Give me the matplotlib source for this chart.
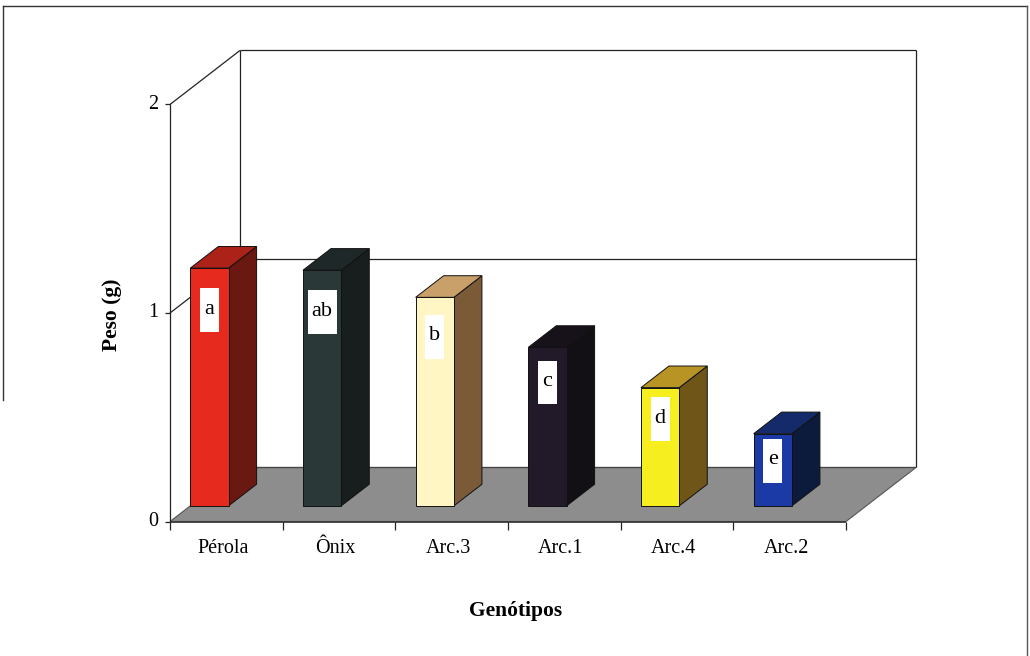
import matplotlib
matplotlib.use("Agg")
import matplotlib.pyplot as plt
from matplotlib.patches import Polygon, Rectangle
from matplotlib.lines import Line2D

genotipos = ["Pérola", "Ônix", "Arc.3", "Arc.1", "Arc.4", "Arc.2"]
peso = [1.14, 1.13, 1.00, 0.76, 0.567, 0.346]
letras = ["a", "ab", "b", "c", "d", "e"]
cor_frente = ["#e62a1e", "#2b3838", "#fff6c4", "#221a28", "#f6ee1e", "#1c3aa6"]
cor_topo = ["#ad2218", "#1f2828", "#c9a06a", "#171219", "#b89424", "#142a6a"]
cor_lado = ["#6a1812", "#181d1d", "#7b5a38", "#121014", "#6f5618", "#0c1a3c"]
yticks = [0, 1, 2]

plt.rcParams['font.family'] = ['Liberation Serif', 'DejaVu Serif']

# oblique "3d" offset of full depth, in data units (categories, grams)
DX, DY = 0.621, 0.259
D0, D1 = 0.29, 0.69      # bar front / back depth
BAR_W = 0.34
n = len(genotipos)
ymax = 2


def proj(x, v, d):
    return (x + d * DX, v + d * DY)


fig = plt.figure(figsize=(10.30, 6.56), dpi=100)
ax = fig.add_axes([0, 0, 1, 1])
ax.set_xlim(-1.509, 7.633)
ax.set_ylim(-0.645, 2.501)
ax.axis('off')

# floor
floor = [proj(0, 0, 0), proj(n, 0, 0), proj(n, 0, 1), proj(0, 0, 1)]
ax.add_patch(Polygon(floor, closed=True, facecolor='#8d8d8d', edgecolor='#555555', lw=0.8, zorder=1))

lc = '#222222'
def seg(p, q, **kw):
    ax.plot([p[0], q[0]], [p[1], q[1]], color=kw.get('c', lc), lw=kw.get('lw', 0.9), zorder=kw.get('z', 2),
            solid_capstyle='butt')

# walls
seg(proj(0, 0, 0), proj(0, ymax, 0))
seg(proj(0, ymax, 0), proj(0, ymax, 1))
seg(proj(0, 0, 1), proj(0, ymax, 1))
seg(proj(0, ymax, 1), proj(n, ymax, 1))
seg(proj(n, 0, 1), proj(n, ymax, 1))
seg(proj(0, 0, 1), proj(n, 0, 1), c='#444444')
seg(proj(0, 0, 0), proj(n, 0, 0), c='#3a3a3a', lw=1.3)
# gridline at 1
seg(proj(0, 1, 0), proj(0, 1, 1))
seg(proj(0, 1, 1), proj(n, 1, 1))

# y ticks
for t in yticks:
    seg(proj(-0.045, t, 0), proj(0, t, 0))
    ax.text(-0.1, t, str(t), ha='right', va='center', fontsize=14.5)

# category ticks and labels
for i in range(n + 1):
    seg((i, 0), (i, -0.04))
for i, g in enumerate(genotipos):
    ax.text(i + 0.47, -0.13, g, ha='center', va='center', fontsize=14.5)

# bars
for i, v in enumerate(peso):
    xl = i
    xr = i + BAR_W
    front = [proj(xl, 0, D0), proj(xr, 0, D0), proj(xr, v, D0), proj(xl, v, D0)]
    side = [proj(xr, 0, D0), proj(xr, 0, D1), proj(xr, v, D1), proj(xr, v, D0)]
    top = [proj(xl, v, D0), proj(xr, v, D0), proj(xr, v, D1), proj(xl, v, D1)]
    z = 3 + i
    ax.add_patch(Polygon(side, closed=True, facecolor=cor_lado[i], edgecolor='#111111', lw=0.7, zorder=z))
    ax.add_patch(Polygon(top, closed=True, facecolor=cor_topo[i], edgecolor='#111111', lw=0.7, zorder=z))
    ax.add_patch(Polygon(front, closed=True, facecolor=cor_frente[i], edgecolor='#111111', lw=0.7, zorder=z))

    # letter in white box on the front face
    cx, cy = proj(xl + BAR_W / 2, v - (0.1 + 0.09 * v), D0)
    w = (9 + 10 * len(letras[i])) / 112.67
    h = 0.21
    ax.add_patch(Rectangle((cx - w / 2, cy - h / 2), w, h, facecolor='white', edgecolor='none', zorder=z + 0.1))
    ax.text(cx, cy + 0.005, letras[i], ha='center', va='center', fontsize=16, zorder=z + 0.2)

ax.text(3.07, -0.427, "Genótipos", ha='center', va='center', fontsize=15.5, fontweight='bold')
ax.text(-0.515, 0.993, "Peso (g)", ha='center', va='center', fontsize=15.5, fontweight='bold', rotation=90)

# outer frame
W, H = 1030.0, 656.0
fig.add_artist(Line2D([3 / W, 1027 / W], [1 - 6 / H, 1 - 6 / H], color='#333333', lw=1.0))
fig.add_artist(Line2D([3 / W, 3 / W], [1 - 6 / H, 1 - 400 / H], color='#333333', lw=1.0))
fig.add_artist(Line2D([1027 / W, 1027 / W], [1 - 6 / H, 0], color='#555555', lw=1.0))

fig.savefig("out.png", dpi=100)
